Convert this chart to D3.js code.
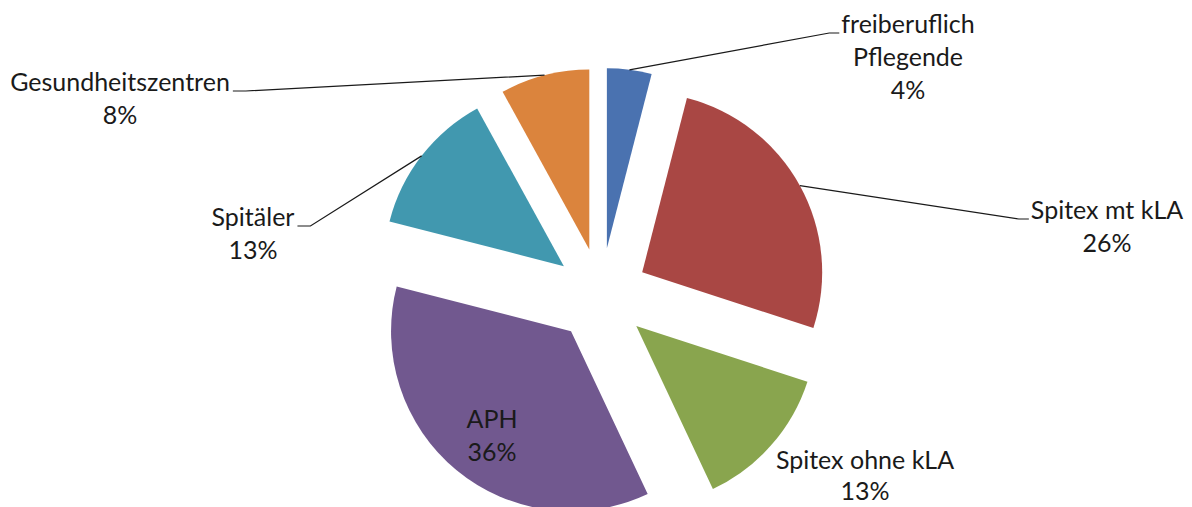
<!DOCTYPE html>
<html>
<head>
<meta charset="utf-8">
<script src="https://cdn.jsdelivr.net/npm/d3@7"></script>
<style>
  html, body { margin: 0; padding: 0; background: #ffffff; }
  svg { display: block; }
  text { font-family: Lato, "Open Sans", sans-serif; fill: #1a1a1a; }
</style>
</head>
<body>
<svg id="chart" width="1192" height="507"></svg>
<script>
// Share of nursing staff by workplace (percent), clockwise from 12 o'clock
const categories = ["freiberuflich Pflegende", "Spitex mt kLA", "Spitex ohne kLA", "APH", "Spitäler", "Gesundheitszentren"];
const labelLines = [["freiberuflich", "Pflegende"], ["Spitex mt kLA"], ["Spitex ohne kLA"], ["APH"], ["Spitäler"], ["Gesundheitszentren"]];
const values = [4, 26, 13, 36, 13, 8];
const colors = ["#4A72B0", "#A94744", "#89A54E", "#71588F", "#4198AF", "#DB843D"];

// Layout
const cx = 601, cy = 295, radius = 180, explode = 47;
const fontSize = 25, lineGap = 33;
// label block: centre x, first baseline y, line gap, leader side ("left" = leader meets text from the left)
const labelPlacement = [
  { x: 908, y: 33, gap: 33, leader: "left" },
  { x: 1107, y: 219, gap: 33, leader: "left" },
  { x: 865, y: 469, gap: 31, leader: null },
  { x: 492, y: 428, gap: 33, leader: null },
  { x: 253, y: 226, gap: 33, leader: "right" },
  { x: 120, y: 91, gap: 33, leader: "right" }
];

const svg = d3.select("#chart");
const total = d3.sum(values);

const pie = d3.pie().sort(null).value(d => d).startAngle(0).endAngle(2 * Math.PI);
const arcs = pie(values);
const arc = d3.arc().innerRadius(0).outerRadius(radius);

const g = svg.append("g").attr("transform", `translate(${cx},${cy})`);

// exploded slices
g.selectAll("path.slice")
  .data(arcs)
  .join("path")
  .attr("class", "slice")
  .attr("d", arc)
  .attr("fill", (d, i) => colors[i])
  .attr("transform", d => {
    const a = (d.startAngle + d.endAngle) / 2;
    return `translate(${explode * Math.sin(a)},${-explode * Math.cos(a)})`;
  });

// labels
const labels = svg.append("g");
arcs.forEach((d, i) => {
  const p = labelPlacement[i];
  const lines = labelLines[i].concat([Math.round(values[i] / total * 100) + "%"]);
  const t = labels.append("text")
    .attr("text-anchor", "middle")
    .attr("font-size", fontSize);
  lines.forEach((ln, k) => {
    t.append("tspan").attr("x", p.x).attr("y", p.y + k * p.gap).text(ln);
  });

  if (p.leader) {
    const a = (d.startAngle + d.endAngle) / 2;
    const ox = cx + explode * Math.sin(a) + radius * Math.sin(a);
    const oy = cy - explode * Math.cos(a) - radius * Math.cos(a);
    const w = t.select("tspan").node().getComputedTextLength();
    let e1, e2;
    if (p.leader === "left") {
      const left = p.x - w / 2;
      e2 = [left - 2, p.y];
      e1 = [left - 12, p.y];
    } else {
      const right = p.x + w / 2;
      e2 = [right + 3, p.y];
      e1 = [right + 16, p.y];
    }
    svg.append("path")
      .attr("d", d3.line()([[ox, oy], e1, e2]))
      .attr("fill", "none")
      .attr("stroke", "#1a1a1a")
      .attr("stroke-width", 1.2);
  }
});
</script>
</body>
</html>
